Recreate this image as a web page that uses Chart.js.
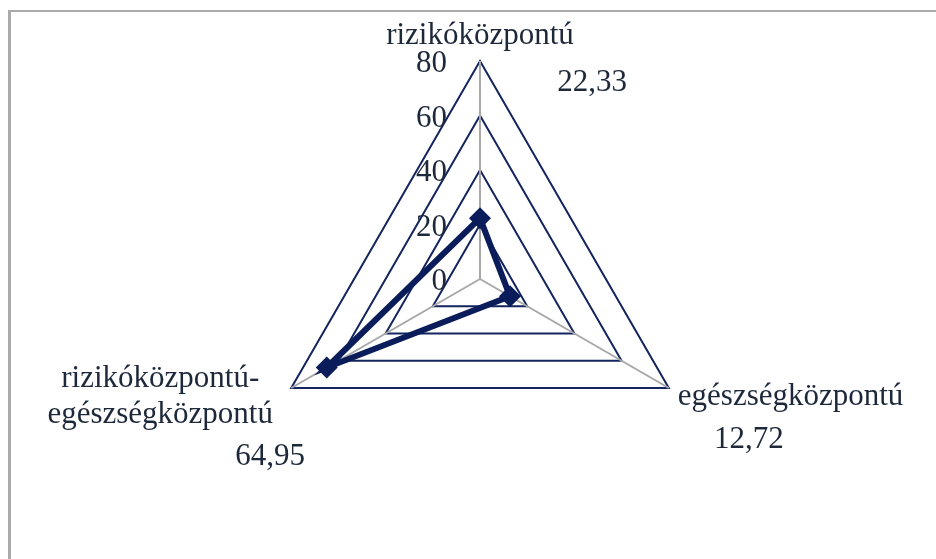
<!DOCTYPE html>
<html lang="hu">
<head>
<meta charset="UTF-8">
<title>Szemléletmódok</title>
<script src="https://cdn.jsdelivr.net/npm/chart.js@4.4.1/dist/chart.umd.min.js"></script>
<style>
    body { margin: 0; background: #fff; }
    #wrap { position: relative; width: 936px; height: 559px; overflow: hidden; }
    #frame {
        position: absolute; left: 8px; top: 10px; width: 940px; height: 560px;
        border-top: 2px solid #ababab; border-left: 3px solid #ababab;
    }
    #chart { position: absolute; left: 0; top: 0; }
</style>
</head>
<body>
<div id="wrap">
    <div id="frame"></div>
    <canvas id="chart" width="936" height="559"></canvas>
</div>
<script>
const categories = [
    ['rizikóközpontú'],
    ['egészségközpontú'],
    ['rizikóközpontú-', 'egészségközpontú']
];
const values = [22.33, 12.72, 64.95];
const valueLabels = ['22,33', '12,72', '64,95'];
const tickValues = [0, 20, 40, 60, 80];

const navy = '#0a1d5a';
const textColor = '#1d283a';
const font = '31px "Liberation Serif", "Times New Roman", serif';

// hol legyenek a kategórianevek és értékek a csúcsokhoz képest
const nameOffsets = [
    { dx: 0, dy: -17, align: 'center' },
    { dx: 9, dy: 17, align: 'left' },
    { dx: -131, dy: -1, align: 'center' }
];
const valueOffsets = [
    { dx: 112, dy: 30 },
    { dx: 80, dy: 60 },
    { dx: -21, dy: 77 }
];

const labelsPlugin = {
    id: 'labels',
    afterDraw(chart) {
        const scale = chart.scales.r;
        const ctx = chart.ctx;
        ctx.save();
        ctx.font = font;
        ctx.fillStyle = textColor;

        // skála feliratai a függőleges tengelytől balra
        ctx.textAlign = 'right';
        ctx.textBaseline = 'middle';
        tickValues.forEach(v => {
            const p = scale.getPointPositionForValue(0, v);
            ctx.fillText(String(v), p.x - 33, p.y + 3);
        });

        ctx.textBaseline = 'alphabetic';
        categories.forEach((lines, i) => {
            const corner = scale.getPointPosition(i, scale.drawingArea);
            const o = nameOffsets[i];
            ctx.textAlign = o.align;
            lines.forEach((line, k) => {
                ctx.fillText(line, corner.x + o.dx, corner.y + o.dy + k * 36);
            });
            const vo = valueOffsets[i];
            ctx.textAlign = 'center';
            ctx.fillText(valueLabels[i], corner.x + vo.dx, corner.y + vo.dy);
        });
        ctx.restore();
    }
};

new Chart(document.getElementById('chart'), {
    type: 'radar',
    data: {
        labels: categories,
        datasets: [{
            data: values,
            borderColor: navy,
            borderWidth: 6,
            fill: false,
            pointStyle: 'rectRot',
            pointRadius: 11,
            pointBackgroundColor: navy,
            pointBorderColor: navy,
            pointBorderWidth: 0
        }]
    },
    options: {
        responsive: false,
        animation: false,
        layout: { padding: { left: 262, right: 238, top: 61, bottom: 62 } },
        plugins: { legend: { display: false }, tooltip: { enabled: false } },
        elements: { line: { tension: 0 } },
        scales: {
            r: {
                min: 0,
                max: 80,
                ticks: { stepSize: 20, display: false },
                grid: { circular: false, color: '#13245e', lineWidth: 2 },
                angleLines: { color: '#a8a8a8', lineWidth: 2 },
                pointLabels: { display: false }
            }
        }
    },
    plugins: [labelsPlugin]
});
</script>
</body>
</html>
